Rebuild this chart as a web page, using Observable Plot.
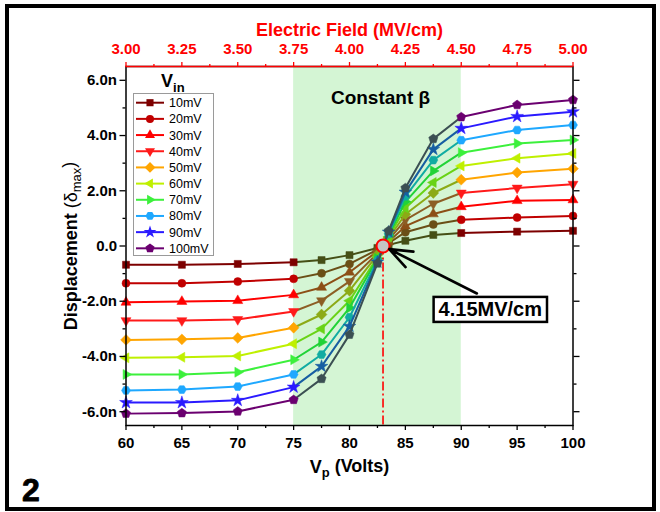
<!DOCTYPE html>
<html><head><meta charset="utf-8">
<script src="https://cdn.jsdelivr.net/npm/d3@7"></script>
<script src="https://cdn.jsdelivr.net/npm/@observablehq/plot@0.6"></script>
<style>
body{margin:0;background:#fff;}
#wrap{position:relative;width:660px;height:512px;overflow:hidden;background:#fff;}
#border{position:absolute;left:5px;top:4px;width:651px;height:507px;border:4px solid #000;box-sizing:border-box;pointer-events:none;}
</style></head><body>
<div id="wrap"><div id="chart"></div><div id="border"></div></div>
<script>
// ---------- data ----------
const vp = [60, 65, 70, 75, 77.5, 80, 82.5, 83.5, 85, 87.5, 90, 95, 100];
const seriesNames = ["10mV","20mV","30mV","40mV","50mV","60mV","70mV","80mV","90mV","100mV"];
const d10  = [-0.68,-0.68,-0.65,-0.59,-0.51,-0.33,-0.07,0.04,0.19,0.40,0.47,0.52,0.55];
const d20  = [-1.35,-1.35,-1.29,-1.19,-0.99,-0.65,-0.13,0.10,0.50,0.78,0.95,1.03,1.09];
const d30  = [-2.04,-2.01,-1.98,-1.77,-1.50,-0.95,-0.19,0.15,0.72,1.16,1.42,1.64,1.67];
const d40  = [-2.70,-2.70,-2.66,-2.37,-1.98,-1.28,-0.26,0.22,0.95,1.53,1.92,2.10,2.24];
const d50  = [-3.40,-3.38,-3.33,-2.96,-2.48,-1.62,-0.32,0.28,1.15,1.92,2.40,2.66,2.80];
const d60  = [-4.05,-4.03,-3.98,-3.54,-3.00,-1.98,-0.40,0.33,1.38,2.30,2.90,3.18,3.35];
const d70  = [-4.65,-4.65,-4.57,-4.12,-3.48,-2.24,-0.45,0.38,1.60,2.72,3.38,3.71,3.84];
const d80  = [-5.23,-5.20,-5.09,-4.65,-3.93,-2.58,-0.52,0.44,1.80,3.11,3.83,4.20,4.38];
const d90  = [-5.67,-5.67,-5.59,-5.11,-4.36,-2.91,-0.58,0.50,1.95,3.50,4.26,4.69,4.86];
const d100 = [-6.07,-6.05,-5.99,-5.57,-4.81,-3.21,-0.63,0.55,2.10,3.88,4.67,5.11,5.29];
const seriesValues = [d10,d20,d30,d40,d50,d60,d70,d80,d90,d100];

const xTicks = [60,65,70,75,80,85,90,95,100];
const xMinorTicks = [62.5,67.5,72.5,77.5,82.5,87.5,92.5,97.5];
const fieldTicks = [3.00,3.25,3.50,3.75,4.00,4.25,4.50,4.75,5.00];
const fieldTickLabels = ["3.00","3.25","3.50","3.75","4.00","4.25","4.50","4.75","5.00"];
const yTicks = [-6,-4,-2,0,2,4,6];
const yTickLabels = ["-6.0n","-4.0n","-2.0n","0.0","2.0n","4.0n","6.0n"];
const yMinorTicks = [-5,-3,-1,1,3,5];
const constantBetaRange = [75, 90];
const annotation = [{v: 83, d: 0, field: 4.15, labelV: 92.6, labelD: -2.3, tailV: 91.4, tailD: -1.72}];

// ---------- style ----------
const seriesColors = ["#7d0000","#c00000","#ff0000","#ff1a1a","#ffa500","#bff000","#3cf03c","#1ea8ff","#2a1aff","#6b0070"];
const blend = c => d3.interpolateRgb(c, "#00b030")(0.45);
const poly = (deg, k) => ({draw(ctx, size){
  const r = Math.sqrt(size/Math.PI)*k;
  deg.forEach((a,i)=>{const t=a*Math.PI/180, x=r*Math.sin(t), y=-r*Math.cos(t); i?ctx.lineTo(x,y):ctx.moveTo(x,y);});
  ctx.closePath();
}});
const triUp = poly([0,120,240],1.45), triDown = poly([180,300,60],1.45),
      triLeft = poly([270,30,150],1.45), triRight = poly([90,210,330],1.45),
      diamond = poly([0,90,180,270],1.35), hexagon = poly([30,90,150,210,270,330],1.12),
      pentagon = poly([0,72,144,216,288],1.2);
const symbols = [d3.symbolSquare, d3.symbolCircle, triUp, triDown, diamond, triLeft, triRight, hexagon, d3.symbolStar, pentagon];

// ---------- marks ----------
const marks = [];
marks.push(Plot.rect([{x1: constantBetaRange[0], x2: constantBetaRange[1]}], {x1:"x1", x2:"x2", fill:"#d4f5d4"}));

seriesNames.forEach((name, s) => {
  const rows = vp.map((v,i) => ({v, d: seriesValues[s][i]}));
  const [a, b] = constantBetaRange;
  const left = rows.filter(r => r.v <= a), mid = rows.filter(r => r.v >= a && r.v <= b), right = rows.filter(r => r.v >= b);
  const c = seriesColors[s], cb = blend(c);
  marks.push(Plot.line(left, {x:"v", y:"d", stroke:c, strokeWidth:2}));
  marks.push(Plot.line(mid, {x:"v", y:"d", stroke:cb, strokeWidth:2}));
  marks.push(Plot.line(right, {x:"v", y:"d", stroke:c, strokeWidth:2}));
  marks.push(Plot.dot(rows.filter(r => r.v > a && r.v < b), {x:"v", y:"d", symbol:symbols[s], r:4, fill:cb, stroke:cb, strokeWidth:0.5}));
  marks.push(Plot.dot(rows.filter(r => r.v <= a || r.v >= b), {x:"v", y:"d", symbol:symbols[s], r:4, fill:c, stroke:c, strokeWidth:0.5}));
});

marks.push(Plot.ruleX(annotation, {x:"v", y1:"d", y2:-6.5, stroke:"#ff0000", strokeWidth:1.6, strokeDasharray:"9,3,2,3"}));
marks.push(Plot.dot(annotation, {x:"v", y:"d", r:6.5, fill:"#c4c4c4", stroke:"#ff0000", strokeWidth:2}));
marks.push(Plot.arrow(annotation, {x1:"tailV", y1:"tailD", x2:"v", y2:"d", insetEnd:7, stroke:"#000", strokeWidth:2.6, headLength:14, headAngle:42}));
marks.push(Plot.text(annotation, {x:"labelV", y:"labelD", text: d => d.field.toFixed(2) + "MV/cm", fontSize:20, fontWeight:"bold", fill:"#000"}));

// frame + axes
marks.push(Plot.frame({stroke:"#000", strokeWidth:1.5}));
marks.push(Plot.ruleY([6.5], {stroke:"#ff0000", strokeWidth:1.5}));
marks.push(Plot.axisX(xTicks, {anchor:"bottom", tickSize:5, tickPadding:7, strokeWidth:1.3, label:null, tickFormat: d => String(d)}));
marks.push(Plot.axisX(xMinorTicks, {anchor:"bottom", tickSize:3, strokeWidth:1.3, label:null, tickFormat: () => ""}));
marks.push(Plot.axisX(fieldTicks.map(e => e*20), {anchor:"top", tickSize:5, tickPadding:8, strokeWidth:1.3, color:"#ff0000", label:null, tickFormat: d => fieldTickLabels[fieldTicks.indexOf(d/20)] ?? (d/20).toFixed(2)}));
marks.push(Plot.axisX(xMinorTicks, {anchor:"top", tickSize:3, strokeWidth:1.3, color:"#ff0000", label:null, tickFormat: () => ""}));
marks.push(Plot.axisY(yTicks, {anchor:"left", tickSize:6, tickPadding:3, strokeWidth:1.3, label:null, tickFormat: d => yTickLabels[yTicks.indexOf(d)]}));
marks.push(Plot.axisY(yMinorTicks, {anchor:"left", tickSize:3, strokeWidth:1.3, label:null, tickFormat: () => ""}));
marks.push(Plot.axisY(yTicks, {anchor:"right", tickSize:6, strokeWidth:1.3, label:null, tickFormat: () => ""}));
marks.push(Plot.axisY(yMinorTicks, {anchor:"right", tickSize:3, strokeWidth:1.3, label:null, tickFormat: () => ""}));

// titles
marks.push(Plot.text(["Electric Field (MV/cm)"], {text:d=>d, frameAnchor:"top", lineAnchor:"middle", dy:-36, fontSize:18, fontWeight:"bold", fill:"#ff0000"}));
marks.push(Plot.text(["Vp (Volts)"], {text:d=>d, frameAnchor:"bottom", lineAnchor:"middle", dy:42, fontSize:18, fontWeight:"bold", fill:"#000"}));
marks.push(Plot.text(["Displacement (δmax)"], {text:d=>d, frameAnchor:"left", textAnchor:"middle", lineAnchor:"middle", dx:-55, rotate:-90, fontSize:18, fontWeight:"bold", fill:"#000"}));
marks.push(Plot.text(["Constant β"], {text:d=>d, frameAnchor:"top", lineAnchor:"middle", dx:31, dy:31, fontSize:19, fontWeight:"bold", fill:"#000"}));
marks.push(Plot.text(["2"], {text:d=>d, frameAnchor:"bottom-left", textAnchor:"start", lineAnchor:"bottom", dx:-104, dy:75, fontSize:32, fontWeight:"bold", fill:"#000", stroke:"#000", strokeWidth:0.8}));

const plot = Plot.plot({
  width: 660, height: 512,
  marginLeft: 125.5, marginRight: 87.5, marginTop: 66, marginBottom: 87,
  x: {domain: [60, 100]},
  y: {domain: [-6.5, 6.5]},
  style: {fontFamily: "'Liberation Sans', Arial, sans-serif", fontSize: "15px", fontWeight: "bold", background: "#fff", overflow: "visible"},
  marks
});
document.getElementById("chart").appendChild(plot);

// ---------- post render: subscripts, label box, legend ----------
const svg = d3.select(plot);
function richText(full, parts){
  svg.selectAll("text").filter(function(){return this.textContent === full;}).each(function(){
    const t = d3.select(this); t.text("");
    let shifted = false;
    parts.forEach(([txt, sub, weight]) => {
      const sp = t.append("tspan").text(txt);
      if (weight) sp.attr("font-weight", weight);
      if (sub && !shifted){ sp.attr("dy","0.3em").attr("font-size","72%"); shifted = true; }
      else if (!sub && shifted){ sp.attr("dy","-0.3em"); shifted = false; }
      else if (sub) sp.attr("font-size","72%");
    });
  });
}
richText("Vp (Volts)", [["V"], ["p", true], [" (Volts)"]]);
richText("Displacement (δmax)", [["Displacement "], ["(δ", false, "normal"], ["max", true, "normal"], [")", false, "normal"]]);

svg.selectAll("text").filter(function(){return this.textContent === "4.15MV/cm";}).each(function(){
  const bb = this.getBBox();
  const tr = this.getAttribute("transform");
  const r = d3.select(this.parentNode).insert("rect", () => this)
    .attr("x", bb.x - 5).attr("y", bb.y - 1).attr("width", bb.width + 10).attr("height", bb.height + 3)
    .attr("fill", "#fff").attr("stroke", "#000").attr("stroke-width", 2.5);
  if (tr) r.attr("transform", tr);
});

const lg = svg.append("g").attr("font-family", "'Liberation Sans', Arial, sans-serif").attr("text-anchor", "start");
const vt = lg.append("text").attr("x", 161).attr("y", 87).attr("font-size", 18).attr("font-weight", "bold").attr("fill", "#000");
vt.append("tspan").text("V");
vt.append("tspan").text("in").attr("font-size", 13).attr("dy", 5);
lg.append("rect").attr("x", 133.5).attr("y", 93.5).attr("width", 80).attr("height", 162)
  .attr("fill", "#fff").attr("stroke", "#9a9a9a").attr("stroke-width", 1);
seriesNames.forEach((name, s) => {
  const y = 102.7 + 16.18 * s;
  lg.append("line").attr("x1", 136).attr("x2", 164).attr("y1", y).attr("y2", y)
    .attr("stroke", seriesColors[s]).attr("stroke-width", 2);
  lg.append("path").attr("d", d3.symbol().type(symbols[s]).size(Math.PI*16)())
    .attr("transform", `translate(150,${y})`).attr("fill", seriesColors[s]);
  lg.append("text").attr("x", 169).attr("y", y + 4.5).attr("font-size", 12.5).attr("font-weight", "normal")
    .attr("fill", "#000").text(name);
});
</script>
</body></html>
